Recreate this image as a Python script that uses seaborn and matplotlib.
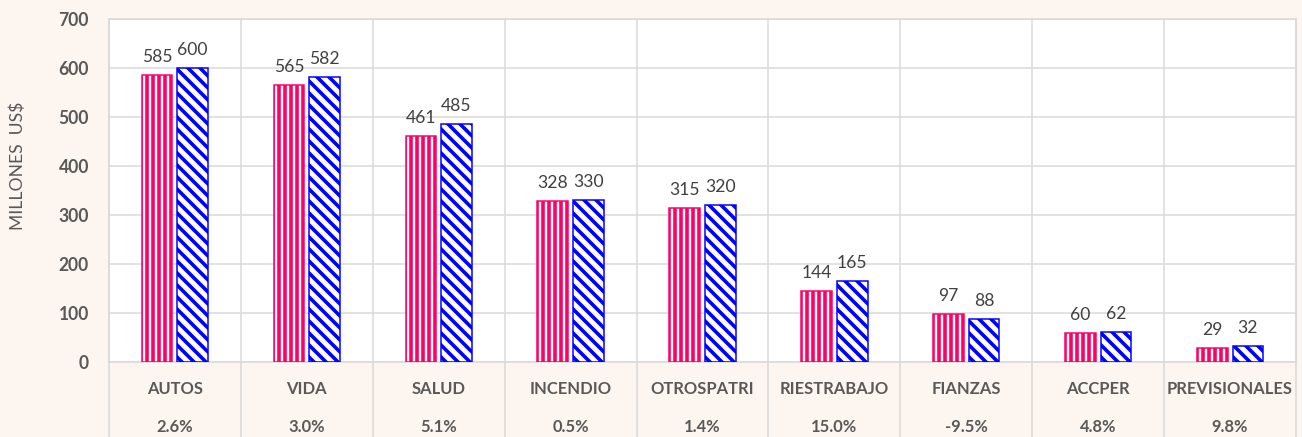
import numpy as np
import pandas as pd
import matplotlib
matplotlib.use("Agg")
import matplotlib.pyplot as plt
import seaborn as sns
from matplotlib.transforms import blended_transform_factory

# ---- data ----
categories = ["AUTOS", "VIDA", "SALUD", "INCENDIO", "OTROSPATRI",
              "RIESTRABAJO", "FIANZAS", "ACCPER", "PREVISIONALES"]
serie_anterior = [585, 565, 461, 328, 315, 144, 97, 60, 29]
serie_actual = [600, 582, 485, 330, 320, 165, 88, 62, 32]
variaciones = ["2.6%", "3.0%", "5.1%", "0.5%", "1.4%", "15.0%", "-9.5%", "4.8%", "9.8%"]
series_names = ["Anterior", "Actual"]
y_ticks = [0, 100, 200, 300, 400, 500, 600, 700]

# ---- style ----
BG = "#FDF5F0"
GRID = "#D9D9D9"
TXT = "#595959"
VAL = "#404040"
PINK = "#FF0066"
BLUE = "#0000FF"

sns.set_theme(style="white")
plt.rcParams["font.family"] = ["Lato", "DejaVu Sans"]
plt.rcParams["hatch.linewidth"] = 3.5

DPI = 72
W, H = 1302, 437
fig = plt.figure(figsize=(W / DPI, H / DPI), dpi=DPI, facecolor=BG)
L, R, T, B = 109, 1296, 19, 362
ax = fig.add_axes([L / W, 1 - B / H, (R - L) / W, (B - T) / H])
ax.set_facecolor("white")

df = pd.DataFrame({
    "categoria": categories * 2,
    "serie": [series_names[0]] * len(categories) + [series_names[1]] * len(categories),
    "valor": serie_anterior + serie_actual,
})

sns.barplot(data=df, x="categoria", y="valor", hue="serie", order=categories,
            hue_order=series_names, width=0.54, gap=0.14, legend=False,
            palette=["white", "white"], saturation=1, ax=ax, zorder=3)

styles = [(PINK, "||", 3.6), (BLUE, "\\\\", 3.6)]
for cont, (col, hatch, hlw), vals in zip(ax.containers, styles, [serie_anterior, serie_actual]):
    for p in cont.patches:
        p.set_facecolor("white")
        p.set_edgecolor(col)
        p.set_hatch(hatch)
        p.set_linewidth(1.5)
        if hasattr(p, "set_hatch_linewidth"):
            p.set_hatch_linewidth(hlw)
    for p, v in zip(cont.patches, vals):
        ax.annotate(f"{v}", (p.get_x() + p.get_width() / 2, p.get_height()),
                    xytext=(0, 13), textcoords="offset points", ha="center",
                    va="baseline", fontsize=17.5, color=VAL)

ax.set_xlim(-0.5, len(categories) - 0.5)
ax.set_ylim(0, 700)
ax.set_yticks(y_ticks)
ax.set_yticklabels([str(t) for t in y_ticks], fontsize=17.5, color=TXT)
ax.tick_params(axis="y", length=0, pad=20)
ax.yaxis.grid(True, color=GRID, linewidth=1.5, zorder=0)
ax.set_axisbelow(True)
ax.set_xlabel("")
ax.set_ylabel("")

ax.set_xticks(range(len(categories)))
ax.set_xticklabels(categories, fontsize=16.5, color=TXT)
ax.tick_params(axis="x", length=0, pad=19)

trans = blended_transform_factory(ax.transData, ax.transAxes)
bottom_axes = -(H - B) / (B - T)
for i, pct in enumerate(variaciones):
    ax.text(i, -(427 - B) / (B - T), pct, transform=trans, ha="center", va="center",
            fontsize=16.5, fontweight="bold", color=TXT)

for i in range(len(categories) + 1):
    ax.plot([i - 0.5, i - 0.5], [1, bottom_axes], transform=trans, color=GRID,
            linewidth=1.5, clip_on=False, zorder=1)

for s in ax.spines.values():
    s.set_color(GRID)
    s.set_linewidth(1.5)

for lab in ax.get_xticklabels() + ax.get_yticklabels():
    lab.set_fontweight("bold")

fig.text(18 / W, 1 - 166 / H, "MILLONES  US$", rotation=90, ha="center", va="center",
         fontsize=17.5, color=TXT)

fig.savefig("out.png", dpi=DPI, facecolor=BG)
